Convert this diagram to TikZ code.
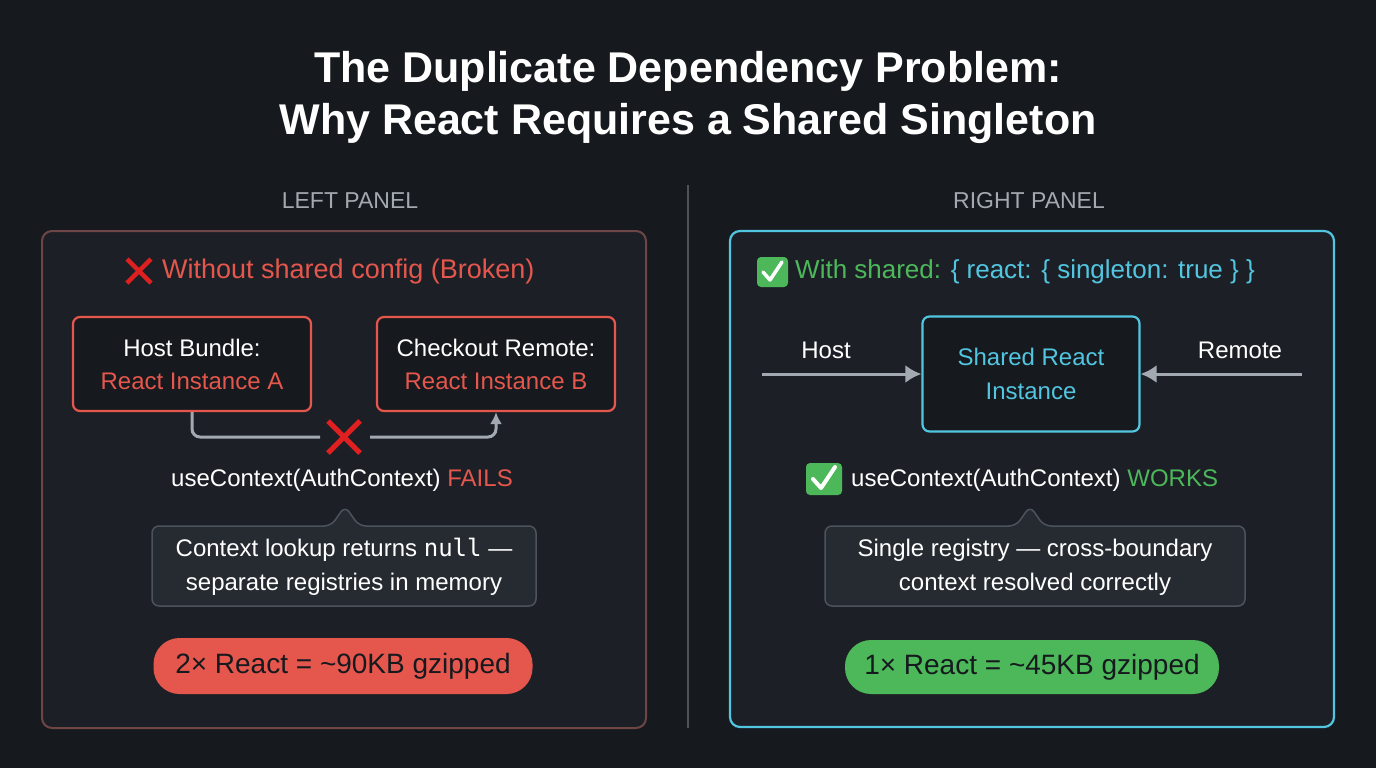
\documentclass[tikz,border=0pt]{standalone}
\usepackage{fontspec}
\setmainfont{Liberation Sans}
\setmonofont{DejaVu Sans Mono}
\usetikzlibrary{arrows.meta}
\begin{document}
\definecolor{bg}{HTML}{16191E}
\definecolor{panel}{HTML}{1C2026}
\definecolor{redc}{HTML}{E5574D}
\definecolor{redborder}{HTML}{6E4646}
\definecolor{cyanc}{HTML}{52C6E0}
\definecolor{greenc}{HTML}{4CB85A}
\definecolor{grayc}{HTML}{A3A9B0}
\definecolor{callfill}{HTML}{262B31}
\definecolor{callline}{HTML}{4C535B}
\definecolor{xred}{HTML}{E02020}
\begin{tikzpicture}[x=1pt,y=-1pt,
  txt/.style={text=white,font=\fontsize{24}{28}\selectfont,inner sep=0pt},
  box/.style={draw,line width=2.2pt,rounded corners=7pt,fill=bg,align=center,inner sep=0pt},
  conn/.style={draw=grayc,line width=3pt},
  call/.style={draw=callline,line width=1.5pt,fill=callfill,rounded corners=7pt},
  pill/.style={rounded corners=26pt,inner sep=0pt,font=\fontsize{28}{32}\selectfont,text=bg}]
\useasboundingbox[fill=bg] (0,0) rectangle (1376,768);
% title
\node[text=white,font=\bfseries\fontsize{43}{52}\selectfont,align=center] (title) at (688,97) {The Duplicate Dependency Problem:\\Why React Requires a Shared Singleton};
\node[text=grayc,font=\fontsize{23}{26}\selectfont] (lp) at (350,201) {LEFT PANEL};
\node[text=grayc,font=\fontsize{23}{26}\selectfont] (rp) at (1029,201) {RIGHT PANEL};
\draw[draw=callline,line width=1.5pt] (688,185) coordinate (d1) -- (688,728) coordinate (d2);
% panels
\draw[draw=redborder,line width=2pt,fill=panel,rounded corners=10pt] (42,231) rectangle (646,728);
\draw[draw=cyanc,line width=2.2pt,fill=panel,rounded corners=10pt] (730,231) rectangle (1334,727);
% left heading
\draw[xred,line width=4.5pt] (127,259) -- (151,283) (151,259) -- (127,283);
\node[txt,text=redc,anchor=west,font=\fontsize{27}{30}\selectfont] (lh) at (162,272) {Without shared config (Broken)};
% boxes
\node[box,draw=redc,minimum width=238pt,minimum height=94pt,txt] (host) at (192,364) {Host Bundle:\\[5pt]\textcolor{redc}{React Instance A}};
\node[box,draw=redc,minimum width=238pt,minimum height=94pt,txt] (chk) at (496,364) {Checkout Remote:\\[5pt]\textcolor{redc}{React Instance B}};
\coordinate (xc) at (344,437);
\draw[conn,rounded corners=8pt] (host.south) |- ([xshift=-24pt]xc);
\draw[conn,rounded corners=8pt,-{Latex[length=12pt,width=12pt]}] ([xshift=26pt]xc) -| (chk.south);
\draw[xred,line width=5pt] ([shift={(-16,-16)}]xc) -- ([shift={(16,16)}]xc) ([shift={(16,-16)}]xc) -- ([shift={(-16,16)}]xc);
\node[txt] (lu) at (342,480) {useContext(AuthContext) \textcolor{redc}{FAILS}};
\draw[call] (152,526) -- (331,526) -- (345,506) -- (359,526) -- (536,526) -- (536,606) -- (152,606) -- cycle;
\node[txt,align=center] (lc) at (344,567) {Context lookup returns \texttt{null} —\\[6pt]separate registries in memory};
\node[pill,fill=redc,minimum width=379pt,minimum height=56pt] (lpill) at (343,666) {2× React = \textasciitilde90KB gzipped};
% right heading
\fill[greenc,rounded corners=4pt] (757,257) rectangle (788,287);
\draw[white,line width=3.5pt,line cap=round,line join=round] (763,272) -- (770,280) -- (782,262);
\node[txt,anchor=west,font=\fontsize{26}{30}\selectfont] (rh) at (795,272) {\textcolor{greenc}{With shared:} \textcolor{cyanc}{\{ react: \{ singleton: true \} \}}};
\node[box,draw=cyanc,minimum width=217pt,minimum height=115pt,txt,text=cyanc] (sh) at (1031,374) {Shared React\\[6pt]Instance};
\coordinate (hs) at (762,374);
\coordinate (rs) at (1302,374);
\draw[conn,-{Latex[length=16pt,width=18pt]}] (hs) -- (sh.west);
\draw[conn,-{Latex[length=16pt,width=18pt]}] (rs) -- (sh.east);
\node[txt] (hl) at (826,350) {Host};
\node[txt] (rl) at (1240,350) {Remote};
\fill[greenc,rounded corners=4pt] (806,463) rectangle (842,495);
\draw[white,line width=4pt,line cap=round,line join=round] (813,479) -- (821,488) -- (835,467);
\node[txt,anchor=west] (ru) at (851,480) {useContext(AuthContext) \textcolor{greenc}{WORKS}};
\draw[call] (825,526) -- (1016,526) -- (1030,506) -- (1044,526) -- (1245,526) -- (1245,606) -- (825,606) -- cycle;
\node[txt,align=center] (rc) at (1035,567) {Single registry — cross-boundary\\[6pt]context resolved correctly};
\node[pill,fill=greenc,minimum width=374pt,minimum height=54pt] (rpill) at (1032,667) {1× React = \textasciitilde45KB gzipped};
\end{tikzpicture}
\end{document}
